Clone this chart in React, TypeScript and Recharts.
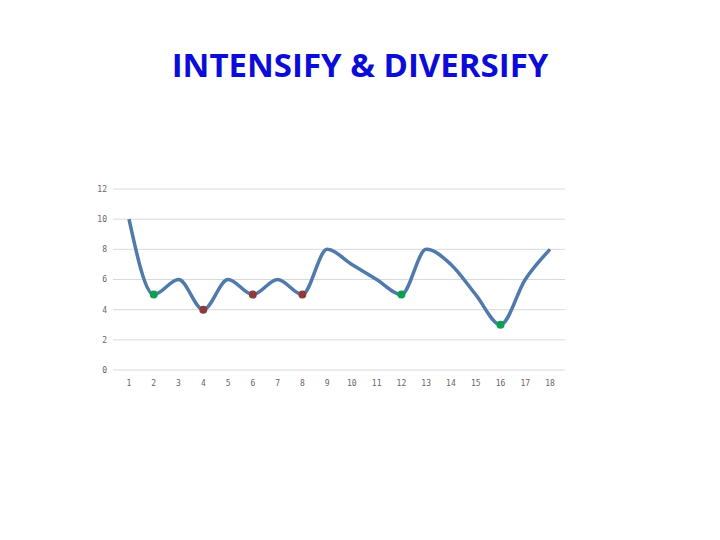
import React from 'react';
import { LineChart, Line, XAxis, YAxis, CartesianGrid } from 'recharts';

const categories = ['1', '2', '3', '4', '5', '6', '7', '8', '9', '10', '11', '12', '13', '14', '15', '16', '17', '18'];
const values = [10, 5, 6, 4, 6, 5, 6, 5, 8, 7, 6, 5, 8, 7, 5, 3, 6, 8];
const greenPoints = ['2', '12', '16'];
const redPoints = ['4', '6', '8'];
const yTicks = [0, 2, 4, 6, 8, 10, 12];

const data = categories.map((c, i) => ({ name: c, value: values[i] }));

const renderDot = (props: any) => {
  const { cx, cy, payload, index } = props;
  let fill = '';
  if (greenPoints.includes(payload.name)) fill = '#0aa04f';
  else if (redPoints.includes(payload.name)) fill = '#8e3a3a';
  if (!fill) return <g key={`dot-${index}`} />;
  return <circle key={`dot-${index}`} cx={cx} cy={cy} r={4} fill={fill} stroke="none" />;
};

const tickStyle = { fontSize: 8, fill: '#666666', fontFamily: 'DejaVu Sans Mono' };

export default function App() {
  return (
    <div style={{ position: 'absolute', left: 0, top: 0, width: 720, height: 540, background: '#fff' }}>
      <div
        style={{
          position: 'absolute',
          top: 42,
          left: 0,
          width: 720,
          textAlign: 'center',
          fontFamily: 'Open Sans',
          fontWeight: 700,
          fontSize: 33,
          color: '#0c0cd8',
        }}
      >
        INTENSIFY &amp; DIVERSIFY
      </div>
      <LineChart width={720} height={540} data={data} margin={{ top: 189, right: 155, bottom: 150, left: 83 }}>
        <CartesianGrid horizontal vertical={false} stroke="#d9d9d9" />
        <XAxis
          dataKey="name"
          height={20}
          axisLine={false}
          tickLine={false}
          padding={{ left: 16, right: 15 }}
          tick={tickStyle}
          tickMargin={4}
          interval={0}
        />
        <YAxis
          width={30}
          domain={[0, 12]}
          ticks={yTicks}
          axisLine={false}
          tickLine={false}
          tick={tickStyle}
          tickMargin={0}
        />
        <Line
          type="monotone"
          dataKey="value"
          stroke="#4f7aab"
          strokeWidth={3.5}
          dot={renderDot}
          activeDot={false}
          isAnimationActive={false}
        />
      </LineChart>
    </div>
  );
}
